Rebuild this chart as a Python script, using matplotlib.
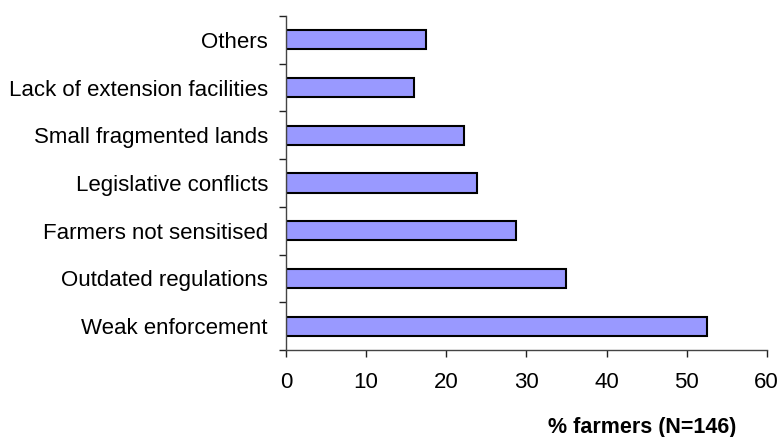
import matplotlib.pyplot as plt
import numpy as np

plt.rcParams['font.family'] = ['Liberation Sans', 'DejaVu Sans']

# constraints, bottom to top
categories = ['Weak enforcement', 'Outdated regulations', 'Farmers not sensitised',
              'Legislative conflicts', 'Small fragmented lands',
              'Lack of extension facilities', 'Others']
percent = [52.5, 35.0, 28.7, 23.8, 22.2, 16.0, 17.5]
xticks = [0, 10, 20, 30, 40, 50, 60]

fig = plt.figure(figsize=(7.8, 4.37), dpi=100)
ax = fig.add_axes([0.3667, 0.1991, 0.6163, 0.7643])

y = np.arange(len(categories))
ax.barh(y, percent, height=0.4, color='#9999FF', edgecolor='black', linewidth=1.5)

ax.set_xlim(0, 60)
ax.set_ylim(-0.5, len(categories) - 0.5)
ax.set_xticks(xticks)
ax.set_yticks(y)
ax.set_yticklabels(categories)
ax.set_yticks(np.arange(-0.5, len(categories)), minor=True)

ax.tick_params(axis='y', which='major', length=0, pad=13, labelsize=16)
ax.tick_params(axis='y', which='minor', length=5, width=1, color='#222222', direction='out')
ax.tick_params(axis='x', length=5, width=1, color='#222222', direction='out', pad=11, labelsize=16)

for s in ['top', 'right']:
    ax.spines[s].set_visible(False)
for s in ['left', 'bottom']:
    ax.spines[s].set_color('#444444')
    ax.spines[s].set_linewidth(1)

ax.set_xlabel('% farmers (N=146)', fontsize=15.5, fontweight='bold')
ax.xaxis.set_label_coords(0.74, -0.2)

plt.savefig('out.png', dpi=100)
